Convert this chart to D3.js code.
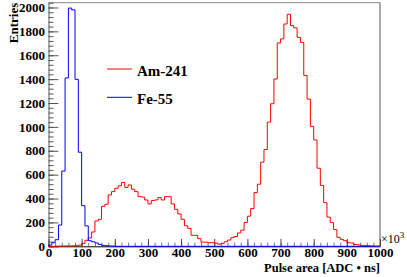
<!DOCTYPE html>
<html><head><meta charset="utf-8">
<script src="https://cdn.jsdelivr.net/npm/d3@7"></script>
<style>
body{margin:0;background:#fff}
svg{display:block}
text{font-family:"Liberation Serif","Times New Roman",serif;}
</style>
</head><body><svg id="c" width="407" height="277"></svg>
<script>
// Histogram binning (100 bins from 0 to 1000, x10^3 ADC*ns)
const binLow = 0, binWidth = 10;

// Am-241 bin contents
const am241 = [
  0,0,1,2,2,3,3,4,6,10,
  25,50,70,120,212,226,335,352,430,458,
  486,506,534,492,514,478,458,416,412,388,
  355,383,388,408,388,416,416,355,310,271,
  226,172,150,92,92,64,35,35,30,30,
  27,18,24,38,52,72,82,112,135,200,
  252,316,450,520,705,810,1040,1194,1401,1703,
  1737,1862,1943,1848,1829,1750,1708,1431,1233,1004,
  890,654,510,365,245,198,140,75,58,47,
  30,28,15,12,8,6,5,3,2,1
];
// Fe-55 bin contents
const fe55 = [
  10,30,55,178,630,1410,1995,1980,1398,788,
  340,171,47,38,28,16,8,5,3,2,
  0,0,0,0,0,0,0,0,0,0,
  0,0,0,0,0,0,0,0,0,0,
  0,0,0,0,0,0,0,0,0,0,
  0,0,0,0,0,0,0,0,0,0,
  0,0,0,0,0,0,0,0,0,0,
  0,0,0,0,0,0,0,0,0,0,
  0,0,0,0,0,0,0,0,0,0,
  0,0,0,0,0,0,0,0,0,0
];

const xTicks = [0,100,200,300,400,500,600,700,800,900,1000];
const xMinorTicks = d3.range(0, 1001, 20);
const yTicks = [0,200,400,600,800,1000,1200,1400,1600,1800,2000];
const yMinorTicks = d3.range(0, 2041, 40);
const seriesNames = ["Am-241", "Fe-55"];
const seriesColors = ["#ff0000", "#0000ff"];
const xTitle = "Pulse area [ADC \u2022 ns]";
const yTitle = "Entries";

const svg = d3.select("#c");
const L = 48.5, R = 380, T = 2.7, B = 246.3;

const x = d3.scaleLinear().domain([0, 1000]).range([L, R]);
const y = d3.scaleLinear().domain([0, d3.max(am241) * 1.05]).range([B, T]);
const fmt = d3.format("d");

// frame top/right
svg.append("line").attr("x1", L).attr("x2", R).attr("y1", T).attr("y2", T)
  .attr("stroke", "#888").attr("stroke-width", 1);
svg.append("line").attr("x1", R).attr("x2", R).attr("y1", T).attr("y2", B)
  .attr("stroke", "#555").attr("stroke-width", 1);

// Y axis
const yMinor = svg.append("g").attr("transform", `translate(${L},0)`)
  .call(d3.axisLeft(y).tickValues(yMinorTicks).tickFormat("").tickSizeInner(-5).tickSizeOuter(0));
yMinor.select(".domain").remove();
yMinor.selectAll("line").attr("stroke", "#555");
const yAx = svg.append("g").attr("transform", `translate(${L},0)`)
  .call(d3.axisLeft(y).tickValues(yTicks).tickFormat(fmt).tickSizeInner(-9.9).tickSizeOuter(0).tickPadding(3.5));
yAx.select(".domain").attr("stroke", "#555");
yAx.selectAll("line").attr("stroke", "#555");
yAx.selectAll("text").attr("font-size", 13).attr("font-weight", "bold")
  .attr("font-family", "Liberation Serif, serif").attr("fill", "#000");

// X axis
const xMinor = svg.append("g").attr("transform", `translate(0,${B})`)
  .call(d3.axisBottom(x).tickValues(xMinorTicks).tickFormat("").tickSizeInner(-3.65).tickSizeOuter(0));
xMinor.select(".domain").remove();
xMinor.selectAll("line").attr("stroke", "#777");
const xAx = svg.append("g").attr("transform", `translate(0,${B})`)
  .call(d3.axisBottom(x).tickValues(xTicks).tickFormat(fmt).tickSizeInner(-7.3).tickSizeOuter(0).tickPadding(1.5));
xAx.select(".domain").attr("stroke", "#000");
xAx.selectAll("line").attr("stroke", "#444");
xAx.selectAll("text").attr("font-size", 13).attr("font-weight", "bold")
  .attr("font-family", "Liberation Serif, serif").attr("fill", "#000");

// histograms
function stepPath(vals) {
  const p = d3.path();
  p.moveTo(x(binLow), y(0));
  vals.forEach((v, i) => {
    const x0 = x(binLow + i * binWidth), x1 = x(binLow + (i + 1) * binWidth);
    p.lineTo(x0, y(v));
    p.lineTo(x1, y(v));
  });
  p.lineTo(x(binLow + vals.length * binWidth), y(0));
  return p.toString();
}
[am241, fe55].forEach((vals, k) => {
  svg.append("path").attr("d", stepPath(vals))
    .attr("fill", "none").attr("stroke", seriesColors[k]).attr("stroke-width", 1);
});

// legend
const legY = [69, 97.3];
seriesNames.forEach((n, k) => {
  svg.append("line").attr("x1", 107).attr("x2", 132).attr("y1", legY[k]).attr("y2", legY[k])
    .attr("stroke", seriesColors[k]).attr("stroke-width", 1);
  svg.append("text").attr("x", 137).attr("y", legY[k] + 6.5)
    .attr("font-size", 15).attr("font-weight", "bold").attr("fill", "#000").text(n);
});

// titles
svg.append("text").attr("x", R).attr("y", 271.5).attr("text-anchor", "end")
  .attr("font-size", 12.5).attr("font-weight", "bold").attr("fill", "#000")
  .text(xTitle);
svg.append("text").attr("transform", `translate(18,${T}) rotate(-90)`)
  .attr("text-anchor", "end").attr("font-size", 13).attr("font-weight", "bold")
  .attr("fill", "#000").text(yTitle);
const mult = svg.append("text").attr("x", 381).attr("y", 242.5).attr("font-size", 12).attr("fill", "#000");
mult.append("tspan").text("\u00d710");
mult.append("tspan").attr("dy", -5).attr("font-size", 9).text("3");
</script>
</body></html>
